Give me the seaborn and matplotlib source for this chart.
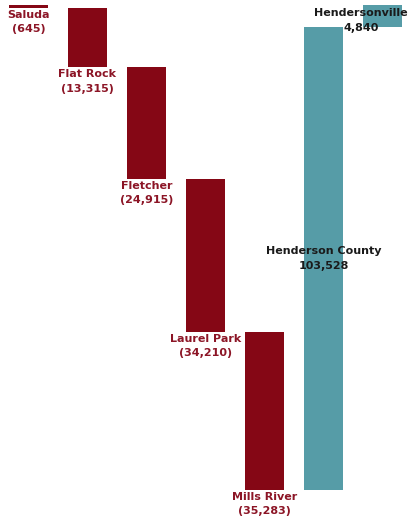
import matplotlib
matplotlib.use("Agg")
import matplotlib.pyplot as plt
import seaborn as sns
import pandas as pd

# Henderson County population breakdown (waterfall)
places = ["Saluda", "Flat Rock", "Fletcher", "Laurel Park", "Mills River",
          "Henderson County", "Hendersonville"]
changes = [-645, -13315, -24915, -34210, -35283, 103528, 4840]

RED = "#850715"
TEAL = "#569ca7"

# running totals: start from the full population and step down, then back up
start_total = -sum(c for c in changes if c < 0)
bottoms, heights = [], []
level = start_total
for c in changes:
    if c < 0:
        bottoms.append(level + c)
        heights.append(-c)
    else:
        bottoms.append(level)
        heights.append(c)
    level += c

df = pd.DataFrame({"place": places, "height": heights, "bottom": bottoms,
                   "change": changes})

sns.set_style("white")
fig = plt.figure(figsize=(4.09, 5.24), dpi=100)
ax = fig.add_axes([0, 0, 1, 1])

sns.barplot(data=df, x="place", y="height", order=places, bottom=df["bottom"].values,
            color=RED, saturation=1, width=0.66, errorbar=None, ax=ax)
for patch, c in zip(ax.patches, changes):
    patch.set_facecolor(TEAL if c > 0 else RED)
    patch.set_edgecolor("none")

ax.set_xlim(-0.483, 6.45)
ax.set_ylim(-7597, 109485)
ax.axis("off")

font = dict(family="DejaVu Sans", fontweight="bold", fontsize=8)
px = 223.4  # data units per pixel
for i, row in df.iterrows():
    c = row["change"]
    if c < 0:
        ax.text(i, row["bottom"] - 2 * px, f"{row['place']}\n({-c:,})",
                ha="center", va="top", color="#8c1526", linespacing=1.55, **font)
    else:
        mid = row["bottom"] + row["height"] / 2
        x = i
        if i == len(df) - 1:
            mid -= 4.5 * px
            x = i - 0.36
        ax.text(x, mid, f"{row['place']}\n{c:,}", ha="center", va="center",
                color="#1a1a1a", linespacing=1.55, **font)

fig.savefig("out.png", dpi=100)
